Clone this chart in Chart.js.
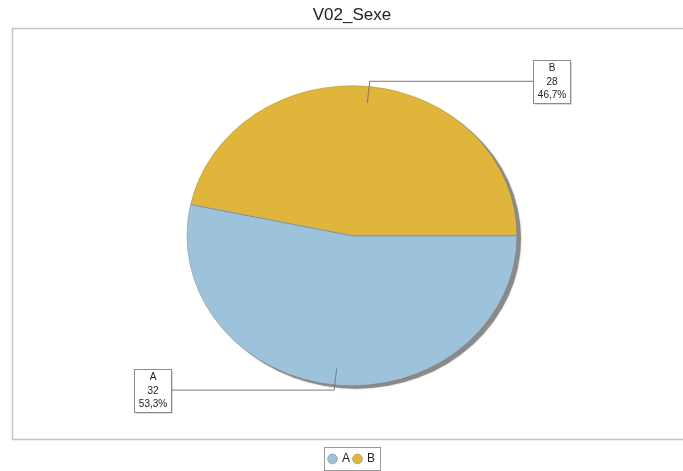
<!DOCTYPE html>
<html>
<head>
<meta charset="utf-8">
<script src="https://cdn.jsdelivr.net/npm/chart.js@4"></script>
<style>
  html, body { margin: 0; padding: 0; background: #fff; }
  #wrap { width: 683px; height: 471px; }
</style>
</head>
<body>
<div id="wrap"><canvas id="pie" width="683" height="471"></canvas></div>
<script>
const categories = ['A', 'B'];
const counts = [32, 28];
const sliceColors = ['#9dc3dc', '#dfb53c'];

// pie is drawn a bit wider than tall, like the original
const stretchX = 1.1;

const total = counts.reduce((a, b) => a + b, 0);
const pctText = counts.map(v => (v / total * 100).toFixed(1).replace('.', ',') + '%');

const framePlugin = {
    id: 'frame',
    beforeDraw(chart) {
        const ctx = chart.ctx;
        ctx.save();
        ctx.strokeStyle = '#c4c4c4';
        ctx.lineWidth = 1.5;
        ctx.strokeRect(12.5, 28.5, 700, 411);
        ctx.restore();
    }
};

const ellipsePlugin = {
    id: 'ellipse',
    beforeDatasetsDraw(chart) {
        const ctx = chart.ctx;
        const arc = chart.getDatasetMeta(0).data[0];
        const cx = arc.x, cy = arc.y, r = arc.outerRadius;
        ctx.save();
        // drop shadow
        ctx.fillStyle = '#8a8a8a';
        ctx.shadowColor = 'rgba(0,0,0,0.3)';
        ctx.shadowBlur = 2;
        ctx.beginPath();
        ctx.ellipse(cx + 4, cy + 3, r * stretchX, r, 0, 0, Math.PI * 2);
        ctx.fill();
        ctx.restore();
        ctx.save();
        ctx.translate(cx, cy);
        ctx.scale(stretchX, 1);
        ctx.translate(-cx, -cy);
    },
    afterDatasetsDraw(chart) {
        chart.ctx.restore();
    }
};

const calloutPlugin = {
    id: 'callouts',
    afterDatasetsDraw(chart) {
        const ctx = chart.ctx;
        chart.getDatasetMeta(0).data.forEach((arc, i) => {
            const { x, y, startAngle, endAngle, outerRadius } = arc.getProps(['x', 'y', 'startAngle', 'endAngle', 'outerRadius'], true);
            const mid = (startAngle + endAngle) / 2;
            const cos = Math.cos(mid), sin = Math.sin(mid);
            const x0 = x + cos * outerRadius * 0.89 * stretchX;
            const y0 = y + sin * outerRadius * 0.89;
            const x1 = x + cos * outerRadius * 1.03 * stretchX;
            const y1 = y + sin * outerRadius * 1.035;
            const right = cos >= 0;
            const edge = x + (right ? 1 : -1) * (outerRadius * stretchX + 16);

            ctx.save();
            ctx.strokeStyle = '#7a7a7a';
            ctx.lineWidth = 1;
            ctx.beginPath();
            ctx.moveTo(x0, y0);
            ctx.lineTo(x1, y1);
            ctx.lineTo(edge, y1);
            ctx.stroke();

            const lines = [categories[i], String(counts[i]), pctText[i]];
            ctx.font = '10px "Liberation Sans", Arial, sans-serif';
            const w = Math.round(Math.max(...lines.map(t => ctx.measureText(t).width)) + 9);
            const h = 43;
            const bx = Math.round(right ? edge : edge - w);
            const by = Math.round(y1 - h / 2);
            ctx.fillStyle = 'rgba(0,0,0,0.15)';
            ctx.fillRect(bx + 2, by + 2, w, h);
            ctx.fillStyle = '#fff';
            ctx.fillRect(bx, by, w, h);
            ctx.strokeStyle = '#8c8c8c';
            ctx.strokeRect(bx + 0.5, by + 0.5, w, h);
            ctx.fillStyle = '#222';
            ctx.textAlign = 'center';
            ctx.textBaseline = 'middle';
            lines.forEach((t, k) => ctx.fillText(t, bx + w / 2 + 0.5, by + 8.5 + k * 13.5));
            ctx.restore();
        });
    }
};

const legendBoxPlugin = {
    id: 'legendBox',
    afterDraw(chart) {
        const boxes = chart.legend.legendHitBoxes;
        if (!boxes || !boxes.length) return;
        const first = boxes[0], last = boxes[boxes.length - 1];
        const ctx = chart.ctx;
        const left = Math.round(first.left) - 4.5;
        const rightX = Math.round(last.left + last.width) + 5.5;
        const top = Math.round(first.top) - 5.5;
        ctx.save();
        ctx.strokeStyle = '#9a9a9a';
        ctx.lineWidth = 1;
        ctx.strokeRect(left, top, rightX - left, first.height + 11);
        ctx.restore();
    }
};

new Chart(document.getElementById('pie'), {
    type: 'pie',
    data: {
        labels: categories,
        datasets: [{
            data: counts,
            backgroundColor: sliceColors,
            borderColor: 'rgba(110,110,110,0.6)',
            borderWidth: 0.6,
            radius: 150
        }]
    },
    options: {
        responsive: false,
        animation: false,
        rotation: 90,
        layout: { padding: { left: 21, right: 0, top: 0, bottom: -4 } },
        plugins: {
            title: {
                display: true,
                text: 'V02_Sexe',
                color: '#222',
                font: { family: '"Liberation Sans", Arial, sans-serif', size: 17, weight: 'normal' },
                padding: { top: 5, bottom: -3 }
            },
            legend: {
                position: 'bottom',
                labels: {
                    usePointStyle: true,
                    pointStyle: 'circle',
                    boxWidth: 7,
                    boxHeight: 7,
                    padding: 4,
                    color: '#222',
                    font: { family: '"Liberation Sans", Arial, sans-serif', size: 12 }
                }
            },
            tooltip: { enabled: false }
        }
    },
    plugins: [framePlugin, ellipsePlugin, calloutPlugin, legendBoxPlugin]
});
</script>
</body>
</html>
